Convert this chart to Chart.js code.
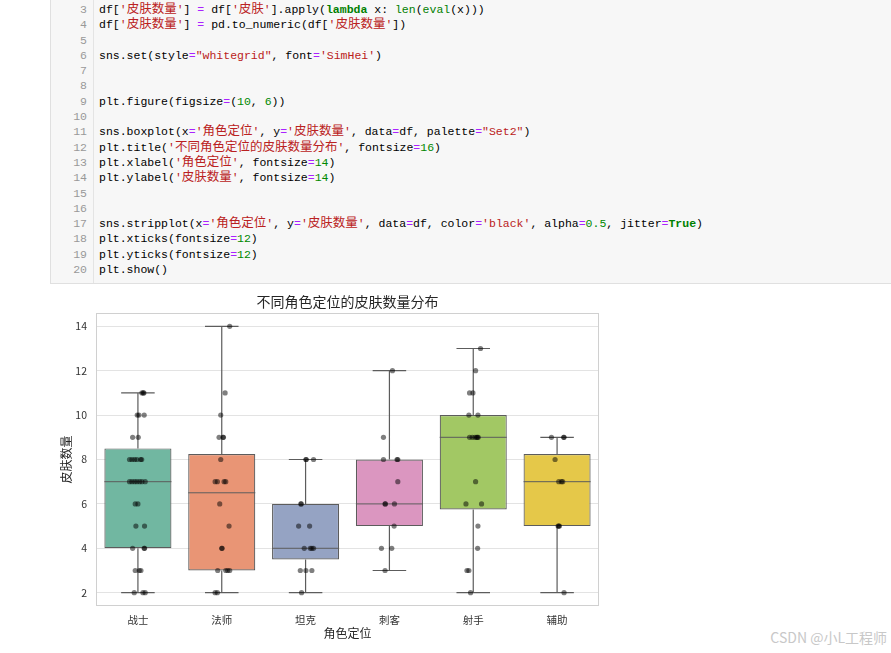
<!DOCTYPE html>
<html lang="zh">
<head>
    <meta charset="UTF-8">
    <title>不同角色定位的皮肤数量分布</title>
    <script src="https://cdn.jsdelivr.net/npm/chart.js"></script>
    <style>
        body {
            margin: 0;
            width: 891px;
            height: 653px;
            overflow: hidden;
            background: #fff;
            position: relative;
        }
        .code-cell {
            position: absolute;
            left: 50px;
            top: 0;
            width: 840px;
            height: 283px;
            background: #f7f7f7;
            border: 1px solid #e0e0e0;
            border-top: none;
            font-family: "Liberation Mono", "DejaVu Sans Mono", monospace;
            font-size: 11.5px;
            display: flex;
        }
        .gutter {
            width: 36px;
            padding: 2px 6px 0 0;
            text-align: right;
            color: #999;
            border-right: 1px solid #e4e4e4;
        }
        .code {
            padding: 2px 0 0 5px;
            white-space: pre;
            color: #000;
        }
        .ln {
            height: 15.3px;
            line-height: 15.3px;
            overflow: visible;
        }
        .code .cjk { font-family: "Noto Sans CJK SC"; font-size: 12.5px; line-height: 0; }
        .s { color: #ba2121; }
        .n { color: #008800; }
        .o { color: #aa22ff; }
        .k { color: #008000; font-weight: bold; }
        .b { color: #008000; }
        #chart {
            position: absolute;
            left: 50px;
            top: 290px;
        }
        .mark {
            position: absolute;
            right: 4px;
            top: 627px;
            font-family: "Noto Sans CJK SC", sans-serif;
            font-size: 14px;
            color: #c8c8c8;
        }
    </style>
</head>
<body>
    <div class="code-cell">
        <div class="gutter" id="gutter"></div>
        <div class="code" id="code"></div>
    </div>
    <canvas id="chart" width="570" height="363"></canvas>
    <div class="mark">CSDN @小L工程师</div>
    <script>
        // 数据
        const roles = ['战士', '法师', '坦克', '刺客', '射手', '辅助'];
        const q1 = [4, 3, 3.5, 5, 5.75, 5];
        const median = [7, 6.5, 4, 6, 9, 7];
        const q3 = [8.5, 8.25, 6, 8, 10, 8.25];
        const whiskerLow = [2, 2, 2, 3, 2, 2];
        const whiskerHigh = [11, 14, 8, 12, 13, 9];
        const yTicks = [2, 4, 6, 8, 10, 12, 14];
        const boxColors = ['#71b7a1', '#e99575', '#95a3c3', '#db96c0', '#a2c864', '#e5c849'];

        // stripplot 点: [皮肤数量, 抖动]
        const ptsZhanshi = [[11,0.048],[11,0.063],[11,0.071],[10,-0.008],[10,0.012],[10,0.075],[9,-0.063],[9,0.004],
            [8,-0.1],[8,-0.071],[8,-0.04],[8,-0.012],[8,0.032],[8,0.045],[7,-0.1],[7,-0.071],[7,-0.04],[7,-0.012],
            [7,0.02],[7,0.048],[7,0.087],[6,-0.032],[6,0],[5,-0.024],[5,0.079],[4,-0.063],[4,0.079],[4,0.075],
            [3,-0.032],[3,0.016],[3,0.036],[2,-0.044],[2,0.06],[2,0.087]];
        const ptsFashi = [[14,0.095],[11,0.04],[10,-0.012],[9,-0.032],[9,0.016],[9,0.02],[8,-0.012],[7,-0.079],
            [7,-0.052],[7,0.028],[7,0.048],[6,-0.024],[5,0.087],[4,0],[4,0.004],[3,-0.048],[3,0.048],[3,0.071],
            [3,0.095],[2,-0.079],[2,-0.052]];
        const ptsTanke = [[8,0.004],[8,0.008],[8,0.095],[6,-0.056],[6,-0.052],[5,-0.083],[5,0.048],[4,-0.016],
            [4,0.056],[4,0.075],[4,0.095],[3,-0.063],[3,0.004],[3,0.075],[2,-0.048]];
        const ptsCike = [[12,0.036],[9,-0.071],[8,-0.071],[8,0.091],[8,0.1],[7,0.1],[6,-0.052],[6,-0.048],[6,0.06],
            [5,0.056],[4,-0.095],[4,0.028],[3,-0.052]];
        const ptsSheshou = [[13,0.087],[12,0.028],[11,-0.044],[11,-0.004],[10,-0.052],[10,0.056],[9,-0.044],
            [9,-0.012],[9,0.02],[9,0.04],[9,0.06],[9,0.05],[7,0.028],[6,-0.087],[6,0.099],[5,0.056],[4,0.052],
            [3,-0.075],[3,-0.052],[2,-0.032]];
        const ptsFuzhu = [[9,-0.067],[9,0.083],[9,0.079],[8,-0.024],[7,0.02],[7,0.052],[7,0.067],[5,0.012],
            [5,0.028],[5,0.02],[2,0.083]];
        const stripPoints = [ptsZhanshi, ptsFashi, ptsTanke, ptsCike, ptsSheshou, ptsFuzhu];

        // 代码单元格
        const codeLines = [
            [3, `df[<span class="s">'<span class="cjk">皮肤数量</span>'</span>] <span class="o">=</span> df[<span class="s">'<span class="cjk">皮肤</span>'</span>].apply(<span class="k">lambda</span> x: <span class="b">len</span>(<span class="b">eval</span>(x)))`],
            [4, `df[<span class="s">'<span class="cjk">皮肤数量</span>'</span>] <span class="o">=</span> pd.to_numeric(df[<span class="s">'<span class="cjk">皮肤数量</span>'</span>])`],
            [5, ''],
            [6, `sns.set(style<span class="o">=</span><span class="s">"whitegrid"</span>, font<span class="o">=</span><span class="s">'SimHei'</span>)`],
            [7, ''],
            [8, ''],
            [9, `plt.figure(figsize<span class="o">=</span>(<span class="n">10</span>, <span class="n">6</span>))`],
            [10, ''],
            [11, `sns.boxplot(x<span class="o">=</span><span class="s">'<span class="cjk">角色定位</span>'</span>, y<span class="o">=</span><span class="s">'<span class="cjk">皮肤数量</span>'</span>, data<span class="o">=</span>df, palette<span class="o">=</span><span class="s">"Set2"</span>)`],
            [12, `plt.title(<span class="s">'<span class="cjk">不同角色定位的皮肤数量分布</span>'</span>, fontsize<span class="o">=</span><span class="n">16</span>)`],
            [13, `plt.xlabel(<span class="s">'<span class="cjk">角色定位</span>'</span>, fontsize<span class="o">=</span><span class="n">14</span>)`],
            [14, `plt.ylabel(<span class="s">'<span class="cjk">皮肤数量</span>'</span>, fontsize<span class="o">=</span><span class="n">14</span>)`],
            [15, ''],
            [16, ''],
            [17, `sns.stripplot(x<span class="o">=</span><span class="s">'<span class="cjk">角色定位</span>'</span>, y<span class="o">=</span><span class="s">'<span class="cjk">皮肤数量</span>'</span>, data<span class="o">=</span>df, color<span class="o">=</span><span class="s">'black'</span>, alpha<span class="o">=</span><span class="n">0.5</span>, jitter<span class="o">=</span><span class="k">True</span>)`],
            [18, `plt.xticks(fontsize<span class="o">=</span><span class="n">12</span>)`],
            [19, `plt.yticks(fontsize<span class="o">=</span><span class="n">12</span>)`],
            [20, `plt.show()`]
        ];
        document.getElementById('gutter').innerHTML = codeLines.map(l => `<div class="ln">${l[0]}</div>`).join('');
        document.getElementById('code').innerHTML = codeLines.map(l => `<div class="ln">${l[1] || ' '}</div>`).join('');

        // 箱线图的线段 (中位数, 须, 须端)
        const gap = x => ({x: x, y: null});
        const medianSegs = [], whiskerSegs = [], capSegs = [];
        roles.forEach((r, i) => {
            medianSegs.push({x: i - 0.4, y: median[i]}, {x: i + 0.4, y: median[i]}, gap(i));
            whiskerSegs.push({x: i, y: whiskerLow[i]}, {x: i, y: q1[i]}, gap(i),
                             {x: i, y: q3[i]}, {x: i, y: whiskerHigh[i]}, gap(i));
            capSegs.push({x: i - 0.2, y: whiskerLow[i]}, {x: i + 0.2, y: whiskerLow[i]}, gap(i),
                         {x: i - 0.2, y: whiskerHigh[i]}, {x: i + 0.2, y: whiskerHigh[i]}, gap(i));
        });
        const scatterData = [];
        stripPoints.forEach((pts, i) => pts.forEach(p => scatterData.push({x: i + p[1], y: p[0]})));

        const lineColor = '#5c5c5c';
        const cjkFont = '"Noto Sans CJK SC", sans-serif';

        const framePlugin = {
            id: 'frame',
            beforeDatasetsDraw(chart) {
                const a = chart.chartArea, ctx = chart.ctx;
                ctx.save();
                ctx.strokeStyle = '#d0d0d0';
                ctx.lineWidth = 1;
                ctx.strokeRect(Math.round(a.left) + 0.5, Math.round(a.top) + 0.5,
                               Math.round(a.right - a.left) - 1, Math.round(a.bottom - a.top) - 1);
                ctx.restore();
            }
        };

        new Chart(document.getElementById('chart'), {
            type: 'bar',
            data: {
                datasets: [
                    {
                        type: 'scatter',
                        data: scatterData,
                        backgroundColor: 'rgba(0,0,0,0.5)',
                        borderWidth: 0,
                        pointRadius: 2.6,
                        order: 0
                    },
                    {
                        type: 'line',
                        data: medianSegs,
                        borderColor: lineColor,
                        borderWidth: 1,
                        pointRadius: 0,
                        order: 1
                    },
                    {
                        type: 'line',
                        data: whiskerSegs.concat(capSegs),
                        borderColor: lineColor,
                        borderWidth: 1.2,
                        pointRadius: 0,
                        order: 1
                    },
                    {
                        type: 'bar',
                        data: roles.map((r, i) => ({x: i, y: [q1[i], q3[i]]})),
                        backgroundColor: boxColors,
                        borderColor: lineColor,
                        borderWidth: 1.2,
                        borderSkipped: false,
                        barPercentage: 1,
                        categoryPercentage: 0.8,
                        grouped: false,
                        order: 2
                    }
                ]
            },
            plugins: [framePlugin],
            options: {
                responsive: false,
                devicePixelRatio: 1,
                animation: false,
                layout: { padding: { left: 0, right: 21, top: 0, bottom: 0 } },
                plugins: {
                    legend: { display: false },
                    tooltip: { enabled: false },
                    title: {
                        display: true,
                        text: '不同角色定位的皮肤数量分布',
                        fullSize: false,
                        color: '#262626',
                        font: { family: cjkFont, size: 14, weight: 'normal' },
                        padding: { top: 3, bottom: 3.2 }
                    }
                },
                scales: {
                    x: {
                        type: 'linear',
                        offset: false,
                        min: -0.5,
                        max: 5.5,
                        afterBuildTicks: s => { s.ticks = roles.map((r, i) => ({value: i})); },
                        afterFit: s => { s.height = 47; },
                        grid: { display: false, drawTicks: false },
                        border: { display: false },
                        ticks: {
                            autoSkip: false,
                            maxRotation: 0,
                            padding: 8,
                            color: '#333',
                            font: { family: cjkFont, size: 10.5 },
                            callback: v => roles[v]
                        },
                        title: {
                            display: true,
                            text: '角色定位',
                            color: '#262626',
                            font: { family: cjkFont, size: 12 },
                            padding: { top: 0, bottom: 12 }
                        }
                    },
                    y: {
                        min: 1.4,
                        max: 14.6,
                        afterBuildTicks: s => { s.ticks = yTicks.map(v => ({value: v})); },
                        afterFit: s => { s.width = 46; },
                        grid: { color: '#e3e3e3', lineWidth: 1, drawTicks: false },
                        border: { display: false },
                        ticks: {
                            padding: 9,
                            color: '#333',
                            font: { family: cjkFont, size: 10.5 }
                        },
                        title: {
                            display: true,
                            text: '皮肤数量',
                            color: '#262626',
                            font: { family: cjkFont, size: 12 },
                            padding: { top: 9, bottom: 0 }
                        }
                    }
                }
            }
        });
    </script>
</body>
</html>
